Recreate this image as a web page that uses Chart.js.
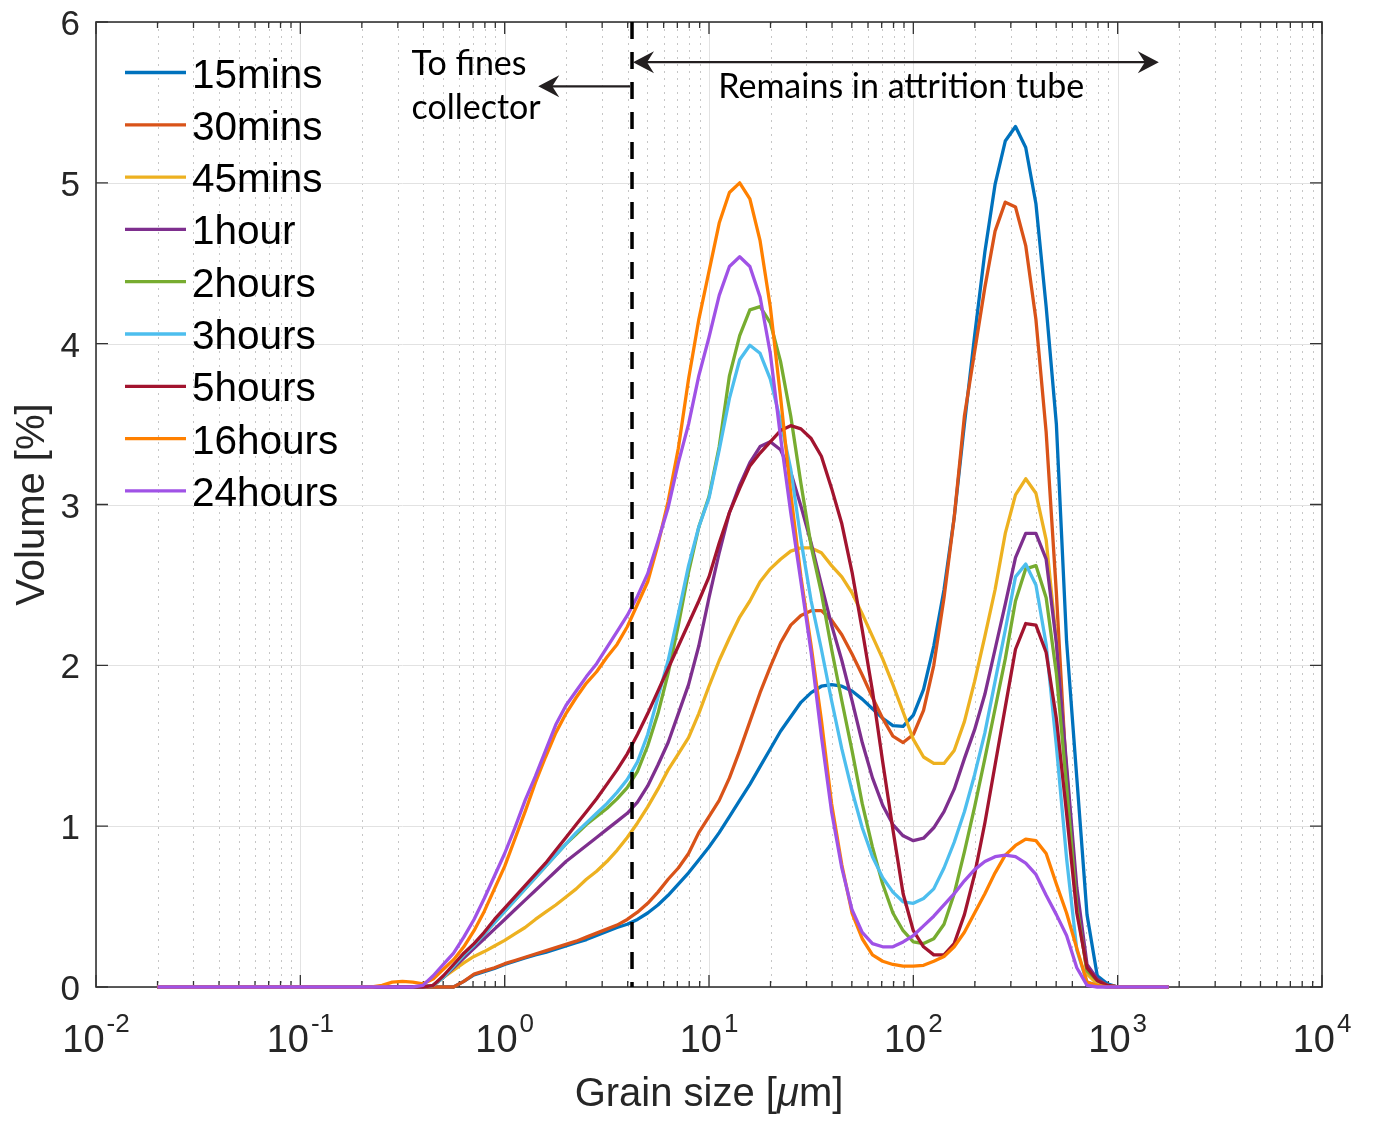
<!DOCTYPE html>
<html>
<head>
<meta charset="utf-8">
<script src="https://cdn.jsdelivr.net/npm/chart.js@4.4.1/dist/chart.umd.min.js"></script>
<style>
  html, body { margin: 0; padding: 0; background: #fff; }
  #wrap { width: 1375px; height: 1122px; }
</style>
</head>
<body>
<div id="wrap"><canvas id="myChart" width="1375" height="1122"></canvas></div>
<script>
// grain size bins [um] (log spaced, 0.05 decade), first/last points are the flat ends
const grainSize = [0.02,
  0.1995, 0.2239, 0.2512, 0.2818, 0.3162, 0.3548, 0.3981, 0.4467, 0.5012, 0.5623, 0.631, 0.7079, 0.7943, 0.8913,
  1.0, 1.122, 1.259, 1.413, 1.585, 1.778, 1.995, 2.239, 2.512, 2.818, 3.162, 3.548, 3.981, 4.467, 5.012, 5.623, 6.31, 7.079, 7.943, 8.913,
  10.0, 11.22, 12.59, 14.13, 15.85, 17.78, 19.95, 22.39, 25.12, 28.18, 31.62, 35.48, 39.81, 44.67, 50.12, 56.23, 63.1, 70.79, 79.43, 89.13,
  100, 112.2, 125.9, 141.3, 158.5, 177.8, 199.5, 223.9, 251.2, 281.8, 316.2, 354.8, 398.1, 446.7, 501.2, 562.3, 631.0, 707.9, 794.3, 891.3,
  1000, 1778];

// volume [%]
const mins15 = [0,
  0, 0, 0, 0, 0, 0, 0, 0, 0, 0, 0.035, 0.075, 0.095, 0.115,
  0.14, 0.16, 0.18, 0.20, 0.215, 0.235, 0.255, 0.275, 0.295, 0.32, 0.345, 0.37, 0.39, 0.42, 0.46, 0.51, 0.57, 0.64, 0.71, 0.79,
  0.87, 0.96, 1.06, 1.16, 1.26, 1.37, 1.48, 1.59, 1.68, 1.77, 1.83, 1.87, 1.88, 1.87, 1.84, 1.79, 1.73, 1.67, 1.625, 1.62,
  1.69, 1.85, 2.12, 2.47, 2.92, 3.50, 4.05, 4.57, 4.99, 5.26, 5.35, 5.22, 4.87, 4.23, 3.50, 2.15, 1.30, 0.45, 0.07, 0.02,
  0, 0];
const mins30 = [0,
  0, 0, 0, 0, 0, 0, 0, 0, 0, 0, 0.035, 0.08, 0.10, 0.12,
  0.145, 0.165, 0.185, 0.205, 0.225, 0.245, 0.265, 0.285, 0.31, 0.335, 0.36, 0.385, 0.42, 0.465, 0.52, 0.59, 0.67, 0.74, 0.83, 0.96,
  1.06, 1.16, 1.30, 1.47, 1.65, 1.83, 1.99, 2.14, 2.25, 2.31, 2.34, 2.34, 2.28, 2.19, 2.07, 1.94, 1.80, 1.67, 1.56, 1.52,
  1.57, 1.72, 2.00, 2.42, 2.92, 3.55, 3.95, 4.35, 4.70, 4.88, 4.85, 4.61, 4.15, 3.45, 2.45, 1.30, 0.55, 0.10, 0.03, 0.01,
  0, 0];
const mins45 = [0,
  0, 0, 0, 0, 0, 0, 0, 0.01, 0.06, 0.105, 0.15, 0.19, 0.22, 0.255,
  0.29, 0.33, 0.37, 0.42, 0.465, 0.51, 0.56, 0.61, 0.67, 0.72, 0.78, 0.85, 0.93, 1.02, 1.12, 1.23, 1.35, 1.45, 1.55, 1.70,
  1.87, 2.03, 2.17, 2.30, 2.40, 2.52, 2.60, 2.66, 2.71, 2.73, 2.73, 2.70, 2.62, 2.55, 2.45, 2.32, 2.18, 2.04, 1.88, 1.71,
  1.54, 1.43, 1.39, 1.39, 1.47, 1.65, 1.90, 2.18, 2.47, 2.82, 3.06, 3.16, 3.07, 2.78, 2.15, 1.35, 0.55, 0.08, 0.02, 0.01,
  0, 0];
const hour1 = [0,
  0, 0, 0, 0, 0, 0, 0, 0.01, 0.06, 0.12, 0.18, 0.24, 0.30, 0.36,
  0.42, 0.48, 0.54, 0.60, 0.66, 0.72, 0.78, 0.83, 0.88, 0.93, 0.98, 1.03, 1.08, 1.15, 1.25, 1.38, 1.52, 1.70, 1.88, 2.12,
  2.42, 2.70, 2.95, 3.12, 3.26, 3.36, 3.39, 3.34, 3.20, 2.99, 2.76, 2.50, 2.25, 2.03, 1.78, 1.52, 1.30, 1.13, 1.01, 0.94,
  0.91, 0.925, 0.99, 1.09, 1.23, 1.42, 1.60, 1.82, 2.10, 2.38, 2.67, 2.82, 2.82, 2.66, 2.14, 1.38, 0.62, 0.14, 0.05, 0.01,
  0, 0];
const hours2 = [0,
  0, 0, 0, 0, 0, 0, 0, 0.01, 0.06, 0.13, 0.20, 0.26, 0.33, 0.40,
  0.47, 0.54, 0.61, 0.68, 0.75, 0.82, 0.89, 0.95, 1.01, 1.06, 1.11, 1.17, 1.24, 1.34, 1.50, 1.70, 1.95, 2.25, 2.58, 2.86,
  3.05, 3.36, 3.80, 4.05, 4.21, 4.23, 4.13, 3.89, 3.55, 3.13, 2.74, 2.45, 2.10, 1.78, 1.47, 1.14, 0.87, 0.64, 0.46, 0.35,
  0.28, 0.27, 0.30, 0.39, 0.58, 0.84, 1.12, 1.42, 1.73, 2.04, 2.40, 2.60, 2.62, 2.42, 1.95, 1.25, 0.50, 0.10, 0.04, 0.01,
  0, 0];
const hours3 = [0,
  0, 0, 0, 0, 0, 0, 0, 0.01, 0.06, 0.13, 0.20, 0.26, 0.33, 0.40,
  0.47, 0.54, 0.61, 0.68, 0.75, 0.82, 0.89, 0.96, 1.02, 1.08, 1.14, 1.21, 1.29, 1.40, 1.57, 1.80, 2.03, 2.32, 2.62, 2.86,
  3.04, 3.34, 3.66, 3.90, 3.99, 3.94, 3.78, 3.52, 3.22, 2.78, 2.40, 2.10, 1.78, 1.48, 1.22, 0.99, 0.81, 0.68, 0.59, 0.53,
  0.52, 0.55, 0.61, 0.74, 0.90, 1.09, 1.32, 1.58, 1.90, 2.22, 2.55, 2.63, 2.50, 2.13, 1.50, 0.80, 0.23, 0.03, 0.01, 0,
  0, 0];
const hours5 = [0,
  0, 0, 0, 0, 0, 0, 0, 0.01, 0.07, 0.14, 0.21, 0.27, 0.34, 0.42,
  0.49, 0.56, 0.63, 0.70, 0.77, 0.85, 0.93, 1.01, 1.09, 1.17, 1.26, 1.35, 1.45, 1.57, 1.70, 1.84, 1.98, 2.12, 2.26, 2.40,
  2.55, 2.76, 2.95, 3.10, 3.24, 3.32, 3.39, 3.46, 3.49, 3.47, 3.41, 3.30, 3.10, 2.88, 2.58, 2.22, 1.84, 1.40, 0.98, 0.58,
  0.35, 0.25, 0.20, 0.20, 0.27, 0.45, 0.70, 1.02, 1.38, 1.74, 2.10, 2.26, 2.25, 2.08, 1.67, 1.08, 0.46, 0.12, 0.04, 0.01,
  0, 0];
const hours16 = [0,
  0, 0, 0.01, 0.03, 0.035, 0.03, 0.02, 0.05, 0.11, 0.17, 0.25, 0.35, 0.47, 0.61,
  0.75, 0.92, 1.09, 1.27, 1.43, 1.58, 1.70, 1.80, 1.89, 1.96, 2.05, 2.13, 2.24, 2.38, 2.52, 2.75, 3.02, 3.35, 3.78, 4.15,
  4.45, 4.75, 4.94, 5.00, 4.90, 4.64, 4.23, 3.67, 3.07, 2.55, 2.12, 1.66, 1.14, 0.76, 0.46, 0.30, 0.20, 0.16, 0.14, 0.13,
  0.13, 0.135, 0.16, 0.19, 0.25, 0.34, 0.46, 0.58, 0.71, 0.82, 0.88, 0.92, 0.91, 0.83, 0.64, 0.46, 0.24, 0.03, 0.01, 0,
  0, 0];
const hours24 = [0,
  0, 0, 0, 0, 0, 0, 0.01, 0.07, 0.14, 0.21, 0.31, 0.42, 0.55, 0.69,
  0.83, 0.99, 1.16, 1.31, 1.47, 1.63, 1.75, 1.84, 1.93, 2.01, 2.11, 2.21, 2.31, 2.43, 2.57, 2.77, 2.98, 3.26, 3.50, 3.80,
  4.04, 4.30, 4.48, 4.54, 4.48, 4.29, 3.94, 3.42, 2.95, 2.52, 2.08, 1.56, 1.09, 0.74, 0.48, 0.34, 0.27, 0.25, 0.25, 0.28,
  0.32, 0.38, 0.44, 0.51, 0.58, 0.66, 0.73, 0.78, 0.81, 0.82, 0.81, 0.77, 0.70, 0.57, 0.45, 0.32, 0.12, 0.01, 0, 0,
  0, 0];

const seriesNames = ["15mins", "30mins", "45mins", "1hour", "2hours", "3hours", "5hours", "16hours", "24hours"];
const seriesValues = [mins15, mins30, mins45, hour1, hours2, hours3, hours5, hours16, hours24];
const seriesColors = ["#0072BD", "#D95319", "#EDB120", "#7E2F8E", "#77AC30", "#4DBEEE", "#A2142F", "#FF8000", "#A052E6"];

// axis ticks
const xTickExp = [-2, -1, 0, 1, 2, 3, 4];
const yTicks = [0, 1, 2, 3, 4, 5, 6];

// annotation: split between fines collector and tube
const cutSize = 4.2;

const axisFont = '"Liberation Sans", Arial, sans-serif';
const noteFont = 'Lato, "Open Sans", sans-serif';

function arrowHead(ctx, tipX, tipY, dir) {
  // dir = -1 points left, +1 points right
  ctx.beginPath();
  ctx.moveTo(tipX, tipY);
  ctx.lineTo(tipX - dir * 21, tipY - 11);
  ctx.lineTo(tipX - dir * 14, tipY);
  ctx.lineTo(tipX - dir * 21, tipY + 11);
  ctx.closePath();
  ctx.fill();
}

const matlabAxes = {
  id: "matlabAxes",
  beforeDatasetsDraw(chart) {
    const { ctx, chartArea: a, scales } = chart;
    const x = scales.x, y = scales.y;
    ctx.save();

    // minor grid, dotted
    ctx.strokeStyle = "#c6c6c6";
    ctx.lineWidth = 1;
    ctx.setLineDash([2, 5]);
    for (let i = 0; i < xTickExp.length - 1; i++) {
      for (let m = 2; m <= 9; m++) {
        const px = Math.round(x.getPixelForValue(m * Math.pow(10, xTickExp[i]))) + 0.5;
        ctx.beginPath();
        ctx.moveTo(px, a.top);
        ctx.lineTo(px, a.bottom);
        ctx.stroke();
      }
    }
    ctx.setLineDash([]);

    // major grid
    ctx.strokeStyle = "#e2e2e2";
    xTickExp.forEach((e) => {
      const px = Math.round(x.getPixelForValue(Math.pow(10, e))) + 0.5;
      ctx.beginPath();
      ctx.moveTo(px, a.top);
      ctx.lineTo(px, a.bottom);
      ctx.stroke();
    });
    yTicks.forEach((v) => {
      const py = Math.round(y.getPixelForValue(v)) + 0.5;
      ctx.beginPath();
      ctx.moveTo(a.left, py);
      ctx.lineTo(a.right, py);
      ctx.stroke();
    });

    // box and inward ticks
    ctx.strokeStyle = "#333333";
    ctx.lineWidth = 1.6;
    ctx.strokeRect(a.left, a.top, a.right - a.left, a.bottom - a.top);
    ctx.lineWidth = 1.3;
    ctx.beginPath();
    for (let i = 0; i < xTickExp.length; i++) {
      const px = x.getPixelForValue(Math.pow(10, xTickExp[i]));
      ctx.moveTo(px, a.bottom); ctx.lineTo(px, a.bottom - 12);
      ctx.moveTo(px, a.top); ctx.lineTo(px, a.top + 12);
      if (i < xTickExp.length - 1) {
        for (let m = 2; m <= 9; m++) {
          const pm = x.getPixelForValue(m * Math.pow(10, xTickExp[i]));
          ctx.moveTo(pm, a.bottom); ctx.lineTo(pm, a.bottom - 6);
          ctx.moveTo(pm, a.top); ctx.lineTo(pm, a.top + 6);
        }
      }
    }
    yTicks.forEach((v) => {
      const py = y.getPixelForValue(v);
      ctx.moveTo(a.left, py); ctx.lineTo(a.left + 12, py);
      ctx.moveTo(a.right, py); ctx.lineTo(a.right - 12, py);
    });
    ctx.stroke();

    // tick labels
    ctx.fillStyle = "#262626";
    ctx.font = "35px " + axisFont;
    ctx.textAlign = "right";
    ctx.textBaseline = "alphabetic";
    yTicks.forEach((v) => {
      ctx.fillText(String(v), a.left - 16, y.getPixelForValue(v) + 13);
    });
    ctx.textAlign = "left";
    xTickExp.forEach((e) => {
      const px = x.getPixelForValue(Math.pow(10, e));
      const base = "10", sup = String(e);
      ctx.font = "38px " + axisFont;
      const wb = ctx.measureText(base).width;
      ctx.font = "26px " + axisFont;
      const ws = ctx.measureText(sup).width;
      const left = px - (wb + ws + 2) / 2;
      ctx.font = "38px " + axisFont;
      ctx.fillText(base, left, a.bottom + 65);
      ctx.font = "26px " + axisFont;
      ctx.fillText(sup, left + wb + 2, a.bottom + 45);
    });

    // axis titles
    ctx.font = "40px " + axisFont;
    ctx.textAlign = "left";
    const t1 = "Grain size [", t2 = "\u03bc", t3 = "m]";
    const w1 = ctx.measureText(t1).width;
    const w3 = ctx.measureText(t3).width;
    ctx.font = "italic 40px " + axisFont;
    const w2 = ctx.measureText(t2).width;
    let tx = (a.left + a.right) / 2 - (w1 + w2 + w3) / 2;
    const ty = a.bottom + 119;
    ctx.font = "40px " + axisFont;
    ctx.fillText(t1, tx, ty);
    ctx.font = "italic 40px " + axisFont;
    ctx.fillText(t2, tx + w1, ty);
    ctx.font = "40px " + axisFont;
    ctx.fillText(t3, tx + w1 + w2, ty);

    ctx.save();
    ctx.translate(44, (a.top + a.bottom) / 2);
    ctx.rotate(-Math.PI / 2);
    ctx.textAlign = "center";
    ctx.fillText("Volume [%]", 0, 0);
    ctx.restore();

    ctx.restore();
  },
  afterDatasetsDraw(chart) {
    const { ctx, chartArea: a, scales } = chart;
    const x = scales.x, y = scales.y;
    ctx.save();

    // cut-off line
    const cx = x.getPixelForValue(cutSize);
    ctx.strokeStyle = "#000";
    ctx.lineWidth = 3.5;
    ctx.setLineDash([17, 13]);
    ctx.beginPath();
    ctx.moveTo(cx, a.top);
    ctx.lineTo(cx, a.bottom);
    ctx.stroke();
    ctx.setLineDash([]);

    // arrows
    ctx.strokeStyle = "#231f20";
    ctx.fillStyle = "#231f20";
    ctx.lineWidth = 2.2;
    const fy = y.getPixelForValue(5.6);
    const fx = x.getPixelForValue(1.46);
    ctx.beginPath();
    ctx.moveTo(cx - 2, fy);
    ctx.lineTo(fx + 10, fy);
    ctx.stroke();
    arrowHead(ctx, fx, fy, -1);

    const ry = y.getPixelForValue(5.75);
    const rx = x.getPixelForValue(1590);
    ctx.beginPath();
    ctx.moveTo(cx + 10, ry);
    ctx.lineTo(rx - 10, ry);
    ctx.stroke();
    arrowHead(ctx, cx + 1, ry, -1);
    arrowHead(ctx, rx, ry, 1);

    // notes
    ctx.fillStyle = "#000";
    ctx.font = "34px " + noteFont;
    ctx.textAlign = "left";
    ctx.textBaseline = "alphabetic";
    ctx.fillText("To fines", x.getPixelForValue(0.35), y.getPixelForValue(5.67));
    ctx.fillText("collector", x.getPixelForValue(0.35), y.getPixelForValue(5.40));
    ctx.fillText("Remains in attrition tube", x.getPixelForValue(11.1), y.getPixelForValue(5.525));

    // legend (no box, top-left)
    ctx.font = "40.5px " + axisFont;
    chart.data.datasets.forEach((ds, i) => {
      const ly = 72.5 + i * 52.3;
      ctx.strokeStyle = ds.borderColor;
      ctx.lineWidth = 3.3;
      ctx.beginPath();
      ctx.moveTo(125, ly);
      ctx.lineTo(186, ly);
      ctx.stroke();
      ctx.fillStyle = "#000";
      ctx.fillText(ds.label, 192, ly + 15);
    });

    ctx.restore();
  }
};

const datasets = seriesValues.map((vals, i) => ({
  label: seriesNames[i],
  data: grainSize.map((g, k) => ({ x: g, y: vals[k] })),
  borderColor: seriesColors[i],
  backgroundColor: seriesColors[i],
  borderWidth: 3.3,
  borderJoinStyle: "round",
  pointRadius: 0,
  tension: 0,
  fill: false,
  clip: false,
  order: seriesValues.length - i
}));

const myChart = new Chart(document.getElementById("myChart"), {
  type: "line",
  data: { datasets },
  options: {
    responsive: false,
    animation: false,
    events: [],
    layout: { padding: { top: 22, right: 53, left: 0, bottom: 0 } },
    plugins: { legend: { display: false }, tooltip: { enabled: false } },
    scales: {
      x: {
        type: "logarithmic",
        min: 0.01,
        max: 10000,
        grid: { display: false },
        border: { display: false },
        ticks: { display: false },
        afterFit: (s) => { s.height = 135; }
      },
      y: {
        type: "linear",
        min: 0,
        max: 6,
        grid: { display: false },
        border: { display: false },
        ticks: { display: false, stepSize: 1 },
        afterFit: (s) => { s.width = 96; }
      }
    }
  },
  plugins: [matlabAxes]
});
</script>
</body>
</html>
